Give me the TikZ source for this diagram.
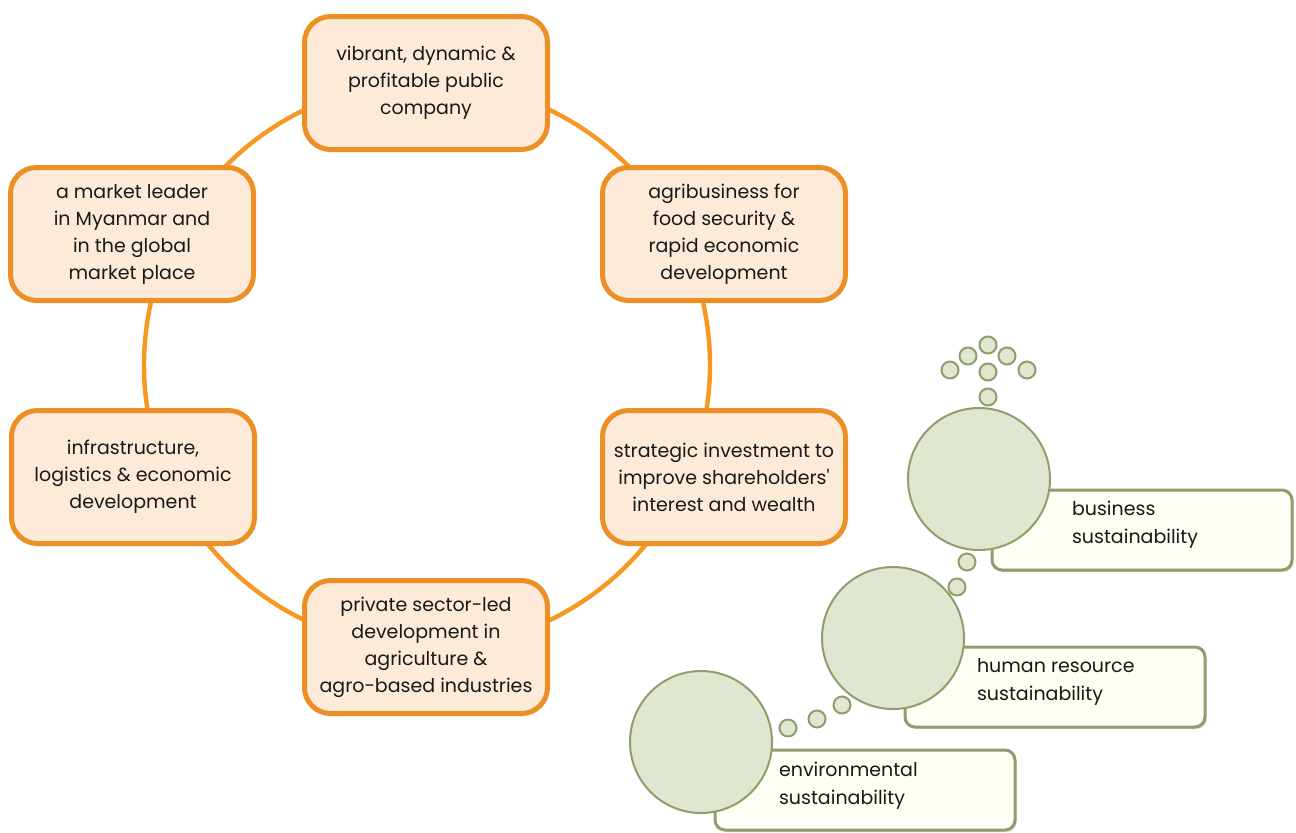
\documentclass[tikz,border=0pt]{standalone}
\usepackage{fontspec}
\setmainfont{Poppins}
\usetikzlibrary{shadows}
\definecolor{vsOrange}{RGB}{236,144,38}
\definecolor{vsRing}{RGB}{247,152,34}
\definecolor{vsPeach}{RGB}{253,234,216}
\definecolor{vsOlive}{RGB}{146,156,108}
\definecolor{vsSage}{RGB}{224,231,208}
\definecolor{vsCream}{RGB}{253,254,244}
\definecolor{vsText}{RGB}{25,25,25}

\begin{document}
\begin{tikzpicture}[x=0.5pt, y=-0.5pt,
  goal/.style={draw=vsOrange, line width=2.5pt, rounded corners=13pt, minimum width=121.5pt, minimum height=66.5pt,
    align=center, fill=vsPeach, text=vsText, font=\fontsize{9.5}{13.5}\selectfont,
    drop shadow={shadow xshift=0.6pt, shadow yshift=-0.8pt, opacity=0.25}},
  tag/.style={draw=vsOlive, line width=1.5pt, rounded corners=5pt, fill=vsCream, minimum width=150pt, minimum height=40pt,
    drop shadow={shadow xshift=0.8pt, shadow yshift=-1pt, opacity=0.3}},
  tagtext/.style={anchor=west, align=left, text=vsText, font=\fontsize{9.5}{14}\selectfont},
  bubble/.style={circle, draw=vsOlive, line width=1pt, fill=vsSage, minimum size=71pt, inner sep=0pt},
  dot/.style={circle, draw=vsOlive, line width=1pt, fill=vsSage, minimum size=8.5pt, inner sep=0pt}]
  \useasboundingbox (0,0) rectangle (1296,832);

  % ring behind the goals
  \node[circle, draw=vsRing, line width=2.2pt, minimum size=283pt, inner sep=0pt] (ring) at (427,365) {};

  \node[goal] (vibrant) at (426,83) {vibrant, dynamic \&\\profitable public\\company};
  \node[goal] (agri) at (724,234) {agribusiness for\\food security \&\\rapid economic\\development};
  \node[goal] (leader) at (132,234) {a market leader\\in Myanmar and\\in the global\\market place};
  \node[goal] (infra) at (133,477) {infrastructure,\\logistics \& economic\\development};
  \node[goal] (invest) at (724,477) {strategic investment to\\improve shareholders\textquotesingle\\interest and wealth};
  \node[goal] (private) at (426,647) {private sector-led\\development in\\agriculture \&\\agro-based industries};

  % sustainability bubbles
  \node[tag] (busBox) at (1142,530) {};
  \node[tag] (humBox) at (1055,687) {};
  \node[tag] (envBox) at (865,790) {};

  \node[bubble] (bus) at (979,479) {};
  \node[bubble] (hum) at (893,638) {};
  \node[bubble] (env) at (701,742) {};

  \node[tagtext] (busT) at (1065,525) {business\\sustainability};
  \node[tagtext] (humT) at (970,682) {human resource\\sustainability};
  \node[tagtext] (envT) at (772,786) {environmental\\sustainability};

  \foreach \px/\py in {988/345, 968/356, 1007/356, 950/370, 988/372, 1027/370, 988/397}
    \node[dot] at (\px,\py) {};
  \node[dot] (bh1) at (967,562) {};
  \node[dot] (bh2) at (957,587) {};
  \node[dot] (he1) at (842,705) {};
  \node[dot] (he2) at (817,719) {};
  \node[dot] (he3) at (788,728) {};
\end{tikzpicture}
\end{document}
